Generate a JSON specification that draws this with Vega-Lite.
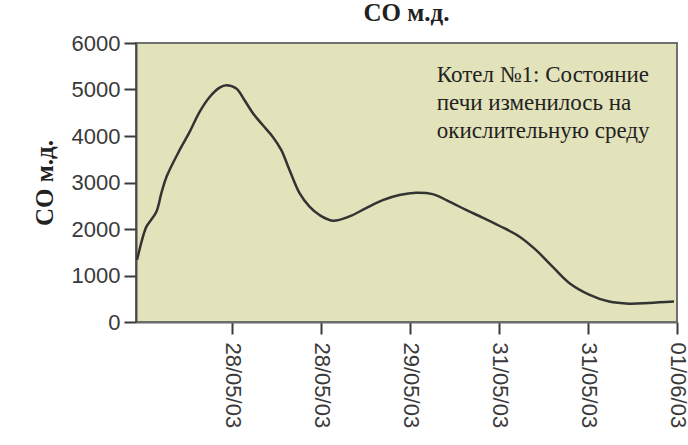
{
  "$schema": "https://vega.github.io/schema/vega-lite/v6.json",
  "autosize": {"type": "none"},
  "width": 541,
  "height": 279,
  "padding": {"left": 136, "top": 43, "right": 11, "bottom": 123},
  "background": "#ffffff",
  "config": {
    "view": {"fill": "#e3e3bb", "stroke": "#707070", "strokeWidth": 2},
    "axis": {"grid": false}
  },
  "title": {
    "text": "CO м.д.",
    "font": "Liberation Serif",
    "fontSize": 25,
    "fontWeight": "bold",
    "color": "#222222",
    "anchor": "middle",
    "offset": 6
  },
  "layer": [
    {
      "data": {
        "values": [
          {"t": -0.068, "co": 1340},
          {"t": -0.001, "co": 1840},
          {"t": 0.037, "co": 2050},
          {"t": 0.149, "co": 2370},
          {"t": 0.205, "co": 2770},
          {"t": 0.262, "co": 3120},
          {"t": 0.411, "co": 3700},
          {"t": 0.523, "co": 4090},
          {"t": 0.635, "co": 4520},
          {"t": 0.748, "co": 4840},
          {"t": 0.86, "co": 5040},
          {"t": 0.935, "co": 5090},
          {"t": 1.047, "co": 5020},
          {"t": 1.14, "co": 4770},
          {"t": 1.234, "co": 4490},
          {"t": 1.346, "co": 4230},
          {"t": 1.458, "co": 3980},
          {"t": 1.552, "co": 3700},
          {"t": 1.645, "co": 3270},
          {"t": 1.758, "co": 2770},
          {"t": 1.87, "co": 2480},
          {"t": 1.982, "co": 2300},
          {"t": 2.131, "co": 2180},
          {"t": 2.319, "co": 2270},
          {"t": 2.506, "co": 2450},
          {"t": 2.693, "co": 2620},
          {"t": 2.88, "co": 2730},
          {"t": 3.067, "co": 2780},
          {"t": 3.254, "co": 2750},
          {"t": 3.441, "co": 2590},
          {"t": 3.629, "co": 2410},
          {"t": 3.815, "co": 2245},
          {"t": 4.002, "co": 2070},
          {"t": 4.227, "co": 1840},
          {"t": 4.414, "co": 1550},
          {"t": 4.601, "co": 1190},
          {"t": 4.788, "co": 840},
          {"t": 5.012, "co": 590},
          {"t": 5.237, "co": 440},
          {"t": 5.461, "co": 395},
          {"t": 5.686, "co": 410},
          {"t": 5.966, "co": 440}
        ]
      },
      "mark": {"type": "line", "interpolate": "catmull-rom", "stroke": "#333333", "strokeWidth": 2.5},
      "encoding": {
        "x": {
          "field": "t",
          "type": "quantitative",
          "scale": {"domain": [-0.08, 6], "nice": false, "zero": false},
          "axis": {
            "title": null,
            "values": [1, 2, 3, 4, 5, 6],
            "labelExpr": "['28/05/03','28/05/03','29/05/03','31/05/03','31/05/03','01/06/03'][datum.value - 1]",
            "labelAngle": 90,
            "labelAlign": "left",
            "labelBaseline": "middle",
            "labelFont": "Liberation Sans",
            "labelFontSize": 22,
            "labelColor": "#3a3a3a",
            "labelPadding": 8,
            "labelOverlap": false,
            "labelBound": false,
            "labelFlush": false,
            "tickSize": 12,
            "tickWidth": 2,
            "tickColor": "#3a3a3a",
            "domainColor": "#6a6a6a",
            "domainWidth": 2
          }
        },
        "y": {
          "field": "co",
          "type": "quantitative",
          "scale": {"domain": [0, 6000], "nice": false},
          "axis": {
            "title": "CO м.д.",
            "titleFont": "Liberation Serif",
            "titleFontSize": 25,
            "titleFontWeight": "bold",
            "titleColor": "#222222",
            "titlePadding": 14,
            "format": "d",
            "values": [0, 1000, 2000, 3000, 4000, 5000, 6000],
            "labelFont": "Liberation Sans",
            "labelFontSize": 22,
            "labelColor": "#3a3a3a",
            "labelPadding": 4,
            "labelFlush": false,
            "tickSize": 12,
            "tickWidth": 2,
            "tickColor": "#3a3a3a",
            "domainColor": "#4a4a4a",
            "domainWidth": 2
          }
        }
      }
    },
    {
      "data": {"values": [{"note": "Котел №1"}]},
      "mark": {
        "type": "text",
        "text": ["Котел №1: Состояние", "печи изменилось на", "окислительную среду"],
        "font": "Liberation Serif",
        "fontSize": 23,
        "fontWeight": "normal",
        "fill": "#222222",
        "align": "left",
        "baseline": "alphabetic",
        "lineHeight": 28
      },
      "encoding": {
        "x": {"datum": 3.3, "type": "quantitative"},
        "y": {"datum": 5160, "type": "quantitative"}
      }
    }
  ]
}
